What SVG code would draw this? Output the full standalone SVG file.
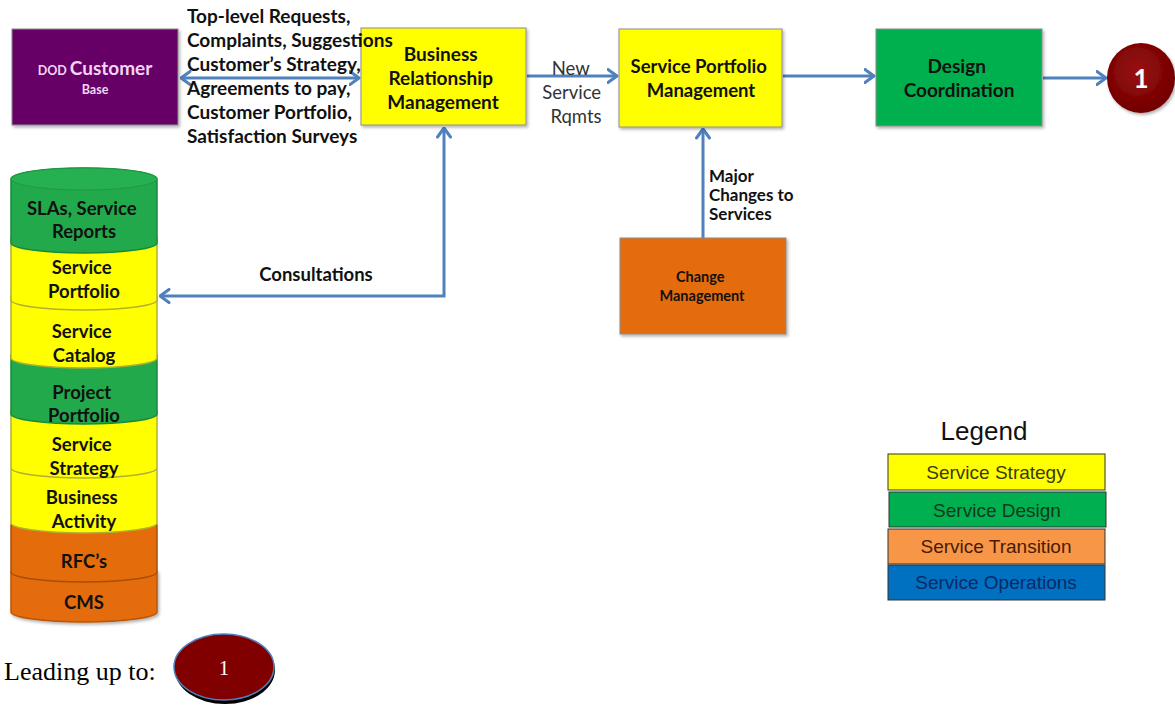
<svg xmlns="http://www.w3.org/2000/svg" width="1175" height="705" viewBox="0 0 1175 705">
  <style>
    .lbl { font-family: Lato, "Open Sans", sans-serif; font-weight: bold; fill: #111; }
    .reg { font-family: Lato, "Open Sans", sans-serif; fill: #333; }
    .box { stroke: #8c8c8c; stroke-width: 1; filter: url(#shadow); }
    .conn { fill: none; stroke: #4F81BD; stroke-width: 3; }
    .leg { font-family: "Liberation Sans", Arial, sans-serif; font-size: 19px; text-anchor: middle; }
    .cyl { stroke-width: 1.5; }
    .mid { text-anchor: middle; }
  </style>
  <defs>
    <filter id="shadow" x="-10%" y="-10%" width="130%" height="130%">
      <feDropShadow dx="1.5" dy="2" stdDeviation="1.5" flood-color="#000" flood-opacity="0.3"/>
    </filter>
    <marker id="arr" viewBox="0 0 12 16" refX="10.5" refY="8" markerWidth="12" markerHeight="16" markerUnits="userSpaceOnUse" orient="auto-start-reverse">
      <path d="M1.5,1.5 L10.5,8 L1.5,14.5" fill="none" stroke="#4F81BD" stroke-width="3" stroke-linecap="round" stroke-linejoin="round"/>
    </marker>
    <radialGradient id="redball" cx="45%" cy="40%" r="65%">
      <stop offset="0" stop-color="#9a0e0e"/>
      <stop offset="1" stop-color="#6e0000"/>
    </radialGradient>
  </defs>

  <rect width="1175" height="705" fill="#ffffff"/>

  <!-- connectors -->
  <g id="connectors">
    <path class="conn" d="M181 78 L359 78" marker-start="url(#arr)" marker-end="url(#arr)"/>
    <path class="conn" d="M527 76 L617 76" marker-end="url(#arr)"/>
    <path class="conn" d="M783 76 L874 76" marker-end="url(#arr)"/>
    <path class="conn" d="M1043 78 L1106 78" marker-end="url(#arr)"/>
    <path class="conn" d="M703 238 L703 129" marker-end="url(#arr)"/>
    <path class="conn" d="M160 296 L444 296 L444 128" marker-start="url(#arr)" marker-end="url(#arr)"/>
  </g>

  <!-- process nodes -->
  <g id="dod-customer">
    <rect class="box" x="12" y="29" width="166" height="96" fill="#660066"/>
    <text class="mid" font-family="Lato, 'Open Sans', sans-serif" font-weight="bold" fill="#f3d6f3" x="95" y="75">
      <tspan font-size="12.5">DOD </tspan><tspan font-size="19">Customer</tspan>
    </text>
    <text class="mid" font-family="Lato, 'Open Sans', sans-serif" font-weight="bold" fill="#f3d6f3" font-size="12.5" x="95" y="94">Base</text>
  </g>

  <g id="brm">
    <rect class="box" x="361" y="28" width="165" height="97" fill="#FFFF00"/>
    <text class="lbl mid" font-size="19">
      <tspan x="443" y="61">Business</tspan>
      <tspan x="443" y="85">Relationship</tspan>
      <tspan x="443" y="109">Management</tspan>
    </text>
  </g>

  <g id="spm">
    <rect class="box" x="619" y="29" width="163" height="98" fill="#FFFF00"/>
    <text class="lbl mid" font-size="18.5">
      <tspan x="701" y="73">Service Portfolio</tspan>
      <tspan x="701" y="97">Management</tspan>
    </text>
  </g>

  <g id="design-coordination">
    <rect class="box" x="876" y="29" width="166" height="97" fill="#00B050"/>
    <text class="lbl mid" font-size="19" fill="#1a2a1a">
      <tspan x="959" y="73">Design</tspan>
      <tspan x="959" y="97">Coordination</tspan>
    </text>
  </g>

  <g id="next-step">
    <ellipse cx="1141" cy="78" rx="34" ry="35" fill="url(#redball)" filter="url(#shadow)"/>
    <text class="mid" font-family="Lato, 'Open Sans', sans-serif" font-weight="bold" font-size="26" fill="#ffffff" x="1141" y="88">1</text>
  </g>

  <g id="change-management">
    <rect class="box" x="620" y="238" width="166" height="96" fill="#E46C0A"/>
    <text class="lbl mid" font-size="14.5" fill="#3f1200">
      <tspan x="702" y="282">Change</tspan>
      <tspan x="702" y="301">Management</tspan>
    </text>
  </g>

  <!-- connector labels, laid over the boxes and lines -->
  <g id="connector-labels">
    <text class="lbl" font-size="19">
      <tspan x="187" y="23">Top-level Requests,</tspan>
      <tspan x="187" y="47">Complaints, Suggestions</tspan>
      <tspan x="187" y="71">Customer’s Strategy,</tspan>
      <tspan x="187" y="95">Agreements to pay,</tspan>
      <tspan x="187" y="119">Customer Portfolio,</tspan>
      <tspan x="187" y="143">Satisfaction Surveys</tspan>
    </text>
    <text class="reg mid" font-size="18.5">
      <tspan x="573" y="75">New</tspan>
      <tspan x="574" y="99">Service</tspan>
      <tspan x="576" y="123">Rqmts</tspan>
    </text>
    <text class="lbl" font-size="17">
      <tspan x="709" y="182">Major</tspan>
      <tspan x="709" y="201">Changes to</tspan>
      <tspan x="709" y="220">Services</tspan>
    </text>
    <text class="lbl mid" font-size="18.5" x="316" y="281">Consultations</text>
  </g>

  <!-- stacked repository cylinder, drawn bottom-up so upper layers overlap -->
  <g id="repository">
    <g id="cms">
      <path class="cyl" d="M11 572 A73 10 0 0 1 157 572 L157 612 A73 10 0 0 1 11 612 Z" fill="#E46C0A" stroke="#b85508" filter="url(#shadow)"/>
      <text class="lbl mid" font-size="18.5" fill="#3a1000" x="84" y="609">CMS</text>
    </g>
    <g id="rfcs">
      <path class="cyl" d="M11 525 A73 10 0 0 1 157 525 L157 572 A73 10 0 0 1 11 572 Z" fill="#E46C0A" stroke="#a84e08"/>
      <text class="lbl mid" font-size="18.5" fill="#3a1000" x="84" y="568">RFC’s</text>
    </g>
    <g id="business-activity">
      <path class="cyl" d="M11 470 A73 10 0 0 1 157 470 L157 523 A73 10 0 0 1 11 523 Z" fill="#FFFF00" stroke="#b0b030"/>
      <text class="lbl mid" font-size="18.5">
        <tspan x="84" y="504">Business</tspan>
        <tspan x="84" y="528">Activity</tspan>
      </text>
    </g>
    <g id="service-strategy">
      <path class="cyl" d="M11 410 A73 10 0 0 1 157 410 L157 468 A73 10 0 0 1 11 468 Z" fill="#FFFF00" stroke="#b0b030"/>
      <text class="lbl mid" font-size="18.5">
        <tspan x="84" y="451">Service</tspan>
        <tspan x="84" y="475">Strategy</tspan>
      </text>
    </g>
    <g id="project-portfolio">
      <path class="cyl" d="M11 355 A73 10 0 0 1 157 355 L157 414 A73 10 0 0 1 11 414 Z" fill="#22A94C" stroke="#178a3a"/>
      <text class="lbl mid" font-size="18.5">
        <tspan x="84" y="399">Project</tspan>
        <tspan x="84" y="422">Portfolio</tspan>
      </text>
    </g>
    <g id="service-catalog">
      <path class="cyl" d="M11 296 A73 10 0 0 1 157 296 L157 358 A73 10 0 0 1 11 358 Z" fill="#FFFF00" stroke="#b0b030"/>
      <text class="lbl mid" font-size="18.5">
        <tspan x="84" y="338">Service</tspan>
        <tspan x="84" y="362">Catalog</tspan>
      </text>
    </g>
    <g id="service-portfolio">
      <path class="cyl" d="M11 238 A73 10 0 0 1 157 238 L157 300 A73 10 0 0 1 11 300 Z" fill="#FFFF00" stroke="#b0b030"/>
      <text class="lbl mid" font-size="18.5">
        <tspan x="84" y="274">Service</tspan>
        <tspan x="84" y="298">Portfolio</tspan>
      </text>
    </g>
    <g id="slas">
      <path class="cyl" d="M11 179 A73 11 0 0 1 157 179 L157 243 A73 10 0 0 1 11 243 Z" fill="#22A94C" stroke="#178a3a"/>
      <ellipse cx="84" cy="179" rx="73" ry="11" fill="#26b052" stroke="#1f9a45" stroke-width="1"/>
      <text class="lbl mid" font-size="18.5">
        <tspan x="84" y="215">SLAs, Service</tspan>
        <tspan x="84" y="238">Reports</tspan>
      </text>
    </g>
  </g>

  <!-- legend -->
  <g id="legend">
    <text font-family="'Liberation Sans', Arial, sans-serif" font-size="26" fill="#111" text-anchor="middle" x="984" y="440">Legend</text>
    <rect x="888" y="454" width="217" height="36" fill="#FFFF00" stroke="#333" stroke-width="1"/>
    <text class="leg" fill="#3a3a10" x="996" y="479">Service Strategy</text>
    <rect x="889" y="492" width="217" height="35" fill="#00B050" stroke="#333" stroke-width="1"/>
    <text class="leg" fill="#0f3a1a" x="997" y="517">Service Design</text>
    <rect x="888" y="529" width="217" height="35" fill="#F79646" stroke="#333" stroke-width="1"/>
    <text class="leg" fill="#4a1a05" x="996" y="553">Service Transition</text>
    <rect x="888" y="565" width="217" height="35" fill="#0070C0" stroke="#333" stroke-width="1"/>
    <text class="leg" fill="#0a2a66" x="996" y="589">Service Operations</text>
  </g>

  <!-- footer note -->
  <g id="leading-up">
    <text font-family="'Liberation Serif', 'Times New Roman', serif" font-size="26" fill="#000" x="4" y="680">Leading up to:</text>
    <ellipse cx="225" cy="670" rx="50" ry="34" fill="#000"/>
    <ellipse cx="224" cy="667" rx="50" ry="33" fill="#800000" stroke="#4F81BD" stroke-width="1.5"/>
    <text font-family="'Liberation Serif', 'Times New Roman', serif" font-size="21" fill="#ffffff" text-anchor="middle" x="224" y="675">1</text>
  </g>
</svg>
